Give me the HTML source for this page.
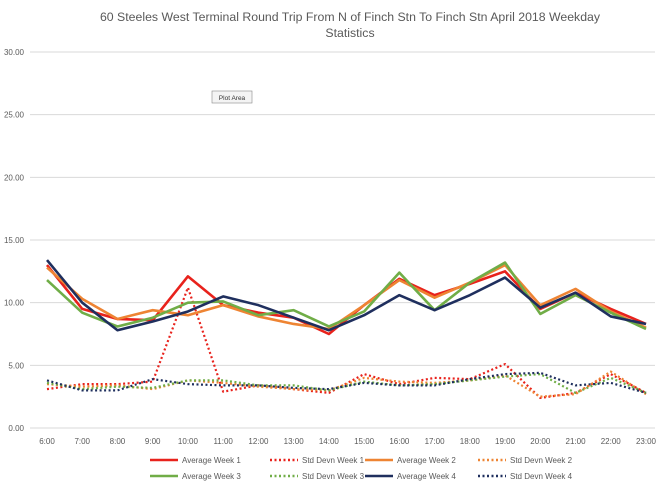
<!DOCTYPE html>
<html><head><meta charset="utf-8"><style>
body{margin:0;background:#fff;font-family:"Liberation Sans",sans-serif}
svg text{font-family:"Liberation Sans",sans-serif}
</style></head><body>
<svg id="c" width="660" height="489">
<text x="350" y="21" text-anchor="middle" font-size="12.3" fill="#595959">60 Steeles West Terminal Round Trip From N of Finch Stn To Finch Stn April 2018 Weekday</text>
<text x="350" y="37" text-anchor="middle" font-size="12.3" fill="#595959">Statistics</text>
<g id="grid"></g><g id="marks"></g><g id="legend"></g>
<g><rect x="212" y="91" width="40" height="12" fill="#f4f4f4" stroke="#888" stroke-width="0.6"/><text x="232" y="100" text-anchor="middle" font-size="6.5" fill="#333">Plot Area</text></g>
</svg>
<script>
const categories=["6:00","7:00","8:00","9:00","10:00","11:00","12:00","13:00","14:00","15:00","16:00","17:00","18:00","19:00","20:00","21:00","22:00","23:00"];
const yTicks=[0,5,10,15,20,25,30];
const avgW1=[13.0,9.5,8.7,8.6,12.1,9.8,9.2,8.8,7.5,9.8,11.9,10.6,11.5,12.5,9.5,10.8,9.5,8.3];
const avgW2=[12.8,10.3,8.7,9.4,9.0,9.8,8.9,8.3,7.9,9.8,11.8,10.4,11.6,13.0,9.8,11.1,9.3,8.0];
const avgW3=[11.8,9.2,8.1,8.8,10.0,10.1,9.0,9.4,8.1,9.3,12.4,9.4,11.6,13.2,9.1,10.6,9.2,7.9];
const avgW4=[13.4,10.0,7.8,8.5,9.3,10.5,9.8,8.8,7.8,9.0,10.6,9.4,10.6,12.0,9.6,10.8,8.9,8.3];
const sdW1=[3.1,3.5,3.5,3.7,11.2,2.9,3.4,3.1,2.8,4.3,3.5,4.0,3.9,5.1,2.4,2.8,4.3,2.8];
const sdW2=[3.5,3.3,3.4,3.1,3.8,3.6,3.3,3.1,3.0,4.0,3.7,3.6,3.8,4.2,2.5,2.7,4.5,2.7];
const sdW3=[3.6,3.1,3.3,3.2,3.8,3.8,3.4,3.4,3.0,3.7,3.4,3.5,3.8,4.1,4.3,2.8,4.0,2.8];
const sdW4=[3.8,3.0,3.0,3.9,3.5,3.4,3.4,3.2,3.1,3.6,3.4,3.4,3.9,4.3,4.4,3.4,3.6,2.8];
const seriesNames=["Average Week 1","Std Devn Week 1","Average Week 2","Std Devn Week 2","Average Week 3","Std Devn Week 3","Average Week 4","Std Devn Week 4"];
const seriesData=[avgW1,sdW1,avgW2,sdW2,avgW3,sdW3,avgW4,sdW4];
const colors=["#e8221c","#e8221c","#ee8433","#ee8433","#70ad47","#70ad47","#1f2f5e","#1f2f5e"];
const NS="http://www.w3.org/2000/svg";
const x0=47,x1=646,y0=428,y1=52,yMax=30;
const xs=i=>x0+i*(x1-x0)/(categories.length-1);
const ys=v=>y0-v*(y0-y1)/yMax;
function mk(t,a,p){const e=document.createElementNS(NS,t);for(const k in a)e.setAttribute(k,a[k]);p.appendChild(e);return e;}
const grid=document.getElementById('grid');
yTicks.forEach(v=>{
 const l=mk('line',{x1:30,x2:655,y1:ys(v),y2:ys(v),stroke:'#d9d9d9','stroke-width':1},grid);
 
 
 const t=mk('text',{x:24,y:ys(v)+3,'text-anchor':'end','font-size':8,fill:'#595959'},grid);
 t.textContent=v.toFixed(2);
 
 
});
categories.forEach((c,i)=>{
 const t=mk('text',{x:xs(i),y:444,'text-anchor':'middle','font-size':8,fill:'#595959'},grid);
 t.textContent=c;
 
 
});
const marks=document.getElementById('marks');
seriesData.forEach((d,s)=>{
 const dotted=s%2===1;
 const p=mk('polyline',{points:d.map((v,i)=>xs(i)+','+ys(v)).join(' '),fill:'none',stroke:colors[s],'stroke-width':dotted?2.2:2.6,'stroke-dasharray':dotted?'2 2.5':'none','stroke-linejoin':'round'},marks);
 
 
});
const legend=document.getElementById('legend');
const lx=[150,270,365,478],ly=[460,476];
seriesNames.forEach((n,s)=>{
 const col=s%4,row=Math.floor(s/4);
 const x=lx[col],y=ly[row];
 const dotted=s%2===1;
 const g=mk('g',{},legend);
 
 
 mk('line',{x1:x,x2:x+28,y1:y,y2:y,stroke:colors[s],'stroke-width':2.4,'stroke-dasharray':dotted?'2 2.5':'none'},g);
 const t=mk('text',{x:x+32,y:y+3,'font-size':8,fill:'#595959'},g);
 t.textContent=n;
});
</script>
</body></html>
